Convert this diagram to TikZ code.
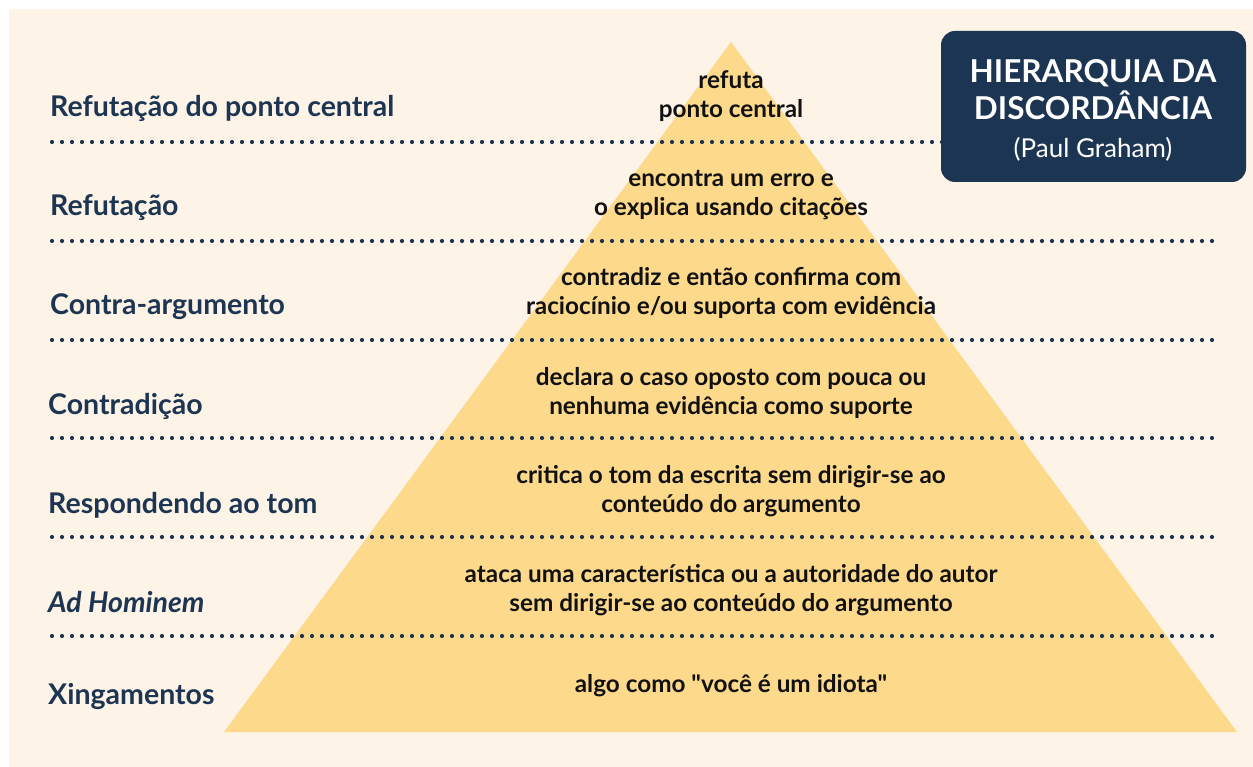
\documentclass[tikz,border=0pt]{standalone}
\usepackage{fontspec}
\setmainfont{Lato}[Ligatures=TeXOff]
\definecolor{bgc}{HTML}{FDF3E6}
\definecolor{pyr}{HTML}{FDD98C}
\definecolor{navy}{HTML}{1C3553}
\definecolor{ink}{HTML}{111111}
\tikzset{
  lvl/.style={anchor=base west, inner sep=0pt, text=navy, font=\fontsize{28.5}{32}\selectfont\bfseries},
  desc/.style={anchor=base, inner sep=0pt, text=ink, font=\fontsize{24.3}{29}\selectfont\bfseries},
  dots/.style={draw=navy, line width=4.2pt, line cap=round, dash pattern=on 0pt off 10pt},
  titlebox/.style={fill=navy, rounded corners=14pt},
  ttl/.style={anchor=base, inner sep=0pt, text=white, font=\fontsize{31.5}{36}\selectfont\bfseries},
  sub/.style={anchor=base, inner sep=0pt, text=white, font=\fontsize{26}{30}\selectfont},
}
\begin{document}
\begin{tikzpicture}[x=1pt,y=-1pt]
\useasboundingbox (0,0) rectangle (1253,767);
\fill[bgc] (9,9) rectangle (1253,767);
\fill[pyr] (731,42) -- (1237,732) -- (224,732) -- cycle;
\foreach \y in {142,241,340,438,537,636} \draw[dots] (52,\y) -- (1222,\y);
% title box
\fill[titlebox] (941,31) rectangle (1246,182);
\node[ttl] (t1) at (1093,83) {HIERARQUIA DA};
\node[ttl] (t2) at (1093,120) {DISCORDÂNCIA};
\node[sub] (t3) at (1093,158) {(Paul Graham)};
% level labels
\node[lvl] (l1) at (50,117) {Refutação do ponto central};
\node[lvl] (l2) at (50,216) {Refutação};
\node[lvl] (l3) at (50,315) {Contra-argumento};
\node[lvl] (l4) at (48,414) {Contradição};
\node[lvl] (l5) at (48,513) {Respondendo ao tom};
\node[lvl, font=\fontsize{28.5}{32}\selectfont\bfseries\itshape] (l6) at (48,612) {Ad Hominem};
\node[lvl] (l7) at (48,704) {Xingamentos};
% descriptions
\node[desc] (d1a) at (731,89) {refuta};
\node[desc] (d1b) at (731,118) {ponto central};
\node[desc] (d2a) at (731,187) {encontra um erro e};
\node[desc] (d2b) at (731,216) {o explica usando citações};
\node[desc] (d3a) at (731,286) {contradiz e então confirma com};
\node[desc] (d3b) at (731,315) {raciocínio e/ou suporta com evidência};
\node[desc] (d4a) at (731,385) {declara o caso oposto com pouca ou};
\node[desc] (d4b) at (731,414) {nenhuma evidência como suporte};
\node[desc] (d5a) at (731,483) {critica o tom da escrita sem dirigir-se ao};
\node[desc] (d5b) at (731,512) {conteúdo do argumento};
\node[desc] (d6a) at (731,582) {ataca uma característica ou a autoridade do autor};
\node[desc] (d6b) at (731,611) {sem dirigir-se ao conteúdo do argumento};
\node[desc] (d7) at (731,692) {algo como "você é um idiota"};
\end{tikzpicture}
\end{document}
